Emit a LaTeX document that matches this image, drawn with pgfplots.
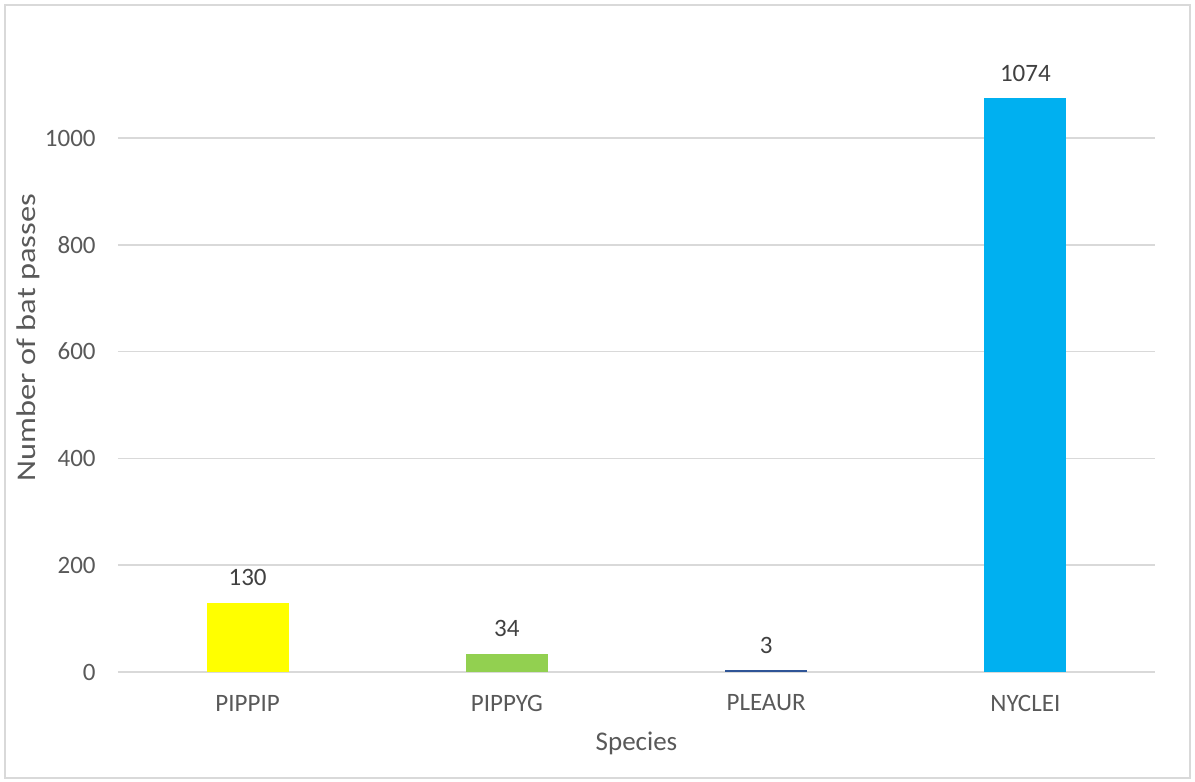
\documentclass[border=0pt]{standalone}
\usepackage{pgfplots}
\pgfplotsset{compat=1.18}
\usepackage{fontspec}
\setmainfont{Carlito}
\definecolor{gridgray}{HTML}{D9D9D9}
\definecolor{ticktext}{HTML}{595959}
\definecolor{labeltext}{HTML}{404040}
\definecolor{cyellow}{HTML}{FFFF00}
\definecolor{cgreen}{HTML}{92D050}
\definecolor{cnavy}{HTML}{2F5597}
\definecolor{cblue}{HTML}{00B0F0}
\begin{document}
\begin{tikzpicture}[x=1pt,y=1pt]
% frame of the whole chart (1px = 0.5pt)
\path (-59,-55) rectangle (538.5,336);
\draw[gridgray,line width=0.75pt] (-56.5,-53) rectangle (536,333.5);
\begin{axis}[
    at={(0,0)}, anchor=south west,
    scale only axis,
    width=518.5pt, height=320.4pt,
    ybar, bar width=41pt,
    bar shift=0pt,
    xmin=-0.5, xmax=3.5,
    ymin=0, ymax=1200,
    xtick={0,1,2,3},
    xticklabels={PIPPIP, PIPPYG, PLEAUR, NYCLEI},
    ytick={0,200,400,600,800,1000},
    ymajorgrids,
    grid style={gridgray, line width=0.75pt},
    axis x line*=bottom,
    axis y line*=left,
    x axis line style={gridgray, line width=0.75pt, -},
    y axis line style={draw=none},
    major tick length=0pt,
    /pgf/number format/assume math mode=true,
    /pgf/number format/1000 sep={},
    tick label style={font=\fontsize{12.5}{15}\selectfont, text=ticktext},
    xticklabel style={anchor=center, yshift=-15.5pt},
    yticklabel style={anchor=east, inner sep=0pt, xshift=-11pt},
    label style={font=\fontsize{13.5}{16}\selectfont, text=ticktext},
    xlabel={Species},
    ylabel={Number of bat passes},
    xlabel style={at={(axis description cs:0.5,0)}, anchor=center, yshift=-35.5pt},
    ylabel style={at={(axis description cs:0,0.5)}, anchor=center, yshift=45pt, xshift=7pt, xscale=1.2},
    nodes near coords,
    nodes near coords style={font=\fontsize{12.5}{15}\selectfont, text=labeltext, anchor=center, yshift=12.5pt},
  ]
  \addplot[draw=none, fill=cyellow] coordinates {(0,130)};
  \addplot[draw=none, fill=cgreen] coordinates {(1,34)};
  \addplot[draw=none, fill=cnavy] coordinates {(2,3)};
  \addplot[draw=none, fill=cblue] coordinates {(3,1074)};
\end{axis}
\end{tikzpicture}
\end{document}
